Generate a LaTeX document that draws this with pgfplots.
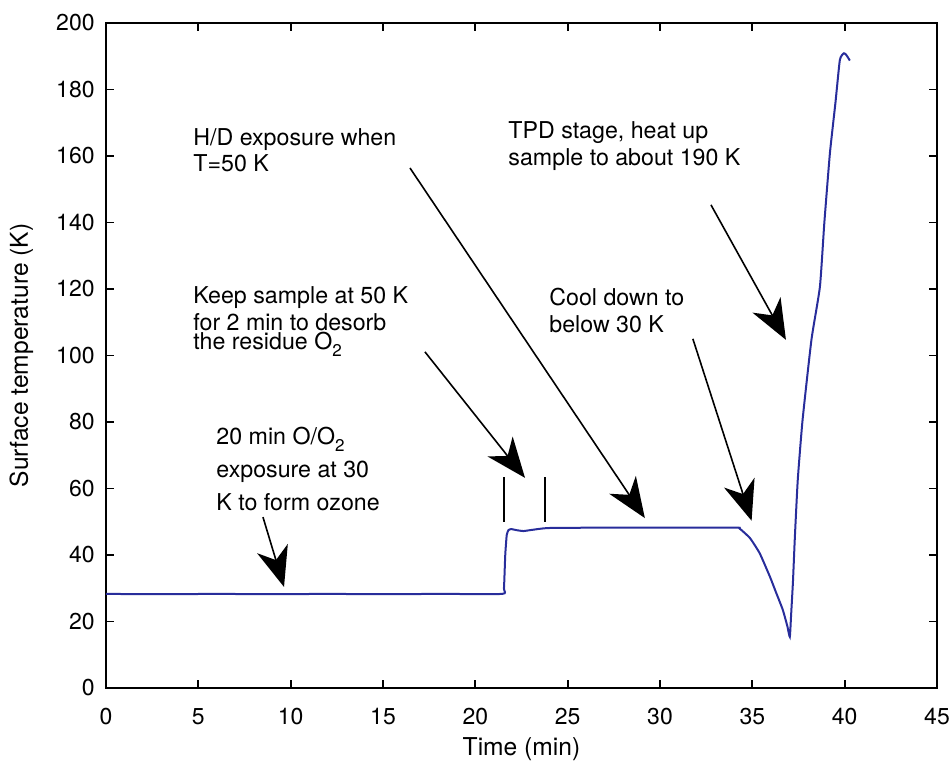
\documentclass[border=0pt]{standalone}
\usepackage{fontspec}
\setmainfont{TeX Gyre Heros}
\usepackage{pgfplots}
\pgfplotsset{compat=1.18}
\usetikzlibrary{arrows.meta}
\definecolor{curveblue}{RGB}{40,45,155}
\newcommand{\sub}[1]{\raisebox{-0.55ex}{\fontsize{8.5}{8.5}\selectfont #1}}
\begin{document}
\fontsize{11}{13}\selectfont
\begin{tikzpicture}
\begin{axis}[
  scale only axis,
  width=415.5pt, height=332.5pt,
  xmin=0, xmax=45, ymin=0, ymax=200,
  xtick={0,5,...,45}, ytick={0,20,...,200},
  axis line style={line width=1pt},
  every tick/.style={black, line width=0.9pt},
  major tick length=4pt,
  tick align=inside,
  /pgf/number format/assume math mode=true,
  tick label style={font=\fontsize{11.5}{13}\selectfont},
  xticklabel style={inner sep=0pt, yshift=-10pt},
  yticklabel style={inner sep=0pt, xshift=-5.5pt},
  xlabel={Time (min)},
  ylabel={Surface temperature (K)},
  label style={font=\fontsize{12.3}{14}\selectfont},
  xlabel style={at={(axis description cs:0.5,-0.1008)}, anchor=base, inner sep=0pt},
  ylabel style={at={(axis description cs:-0.0939,0.5)}, anchor=base, inner sep=0pt},
  clip=false,
]
\addplot[curveblue, line width=1pt, smooth, tension=0.3] coordinates {
(0,28.3) (3,28.2) (6,28.3) (9,28.2) (12,28.3) (15,28.2) (18,28.3) (21.45,28.3)
(21.55,30) (21.62,40) (21.7,46) (21.8,47.5) (21.95,47.8) (22.2,47.5) (22.6,47.2)
(23,47.5) (23.9,48.1) (26,48.2) (30,48.2) (34.1,48.2) (34.3,48.0) (34.87,45.1)
(35.4,40.5) (35.95,33.5) (36.3,28.5) (36.65,23.5) (36.9,18.5) (37.03,15.4)
(37.1,22) (37.2,32) (37.3,45) (37.46,62.6) (37.72,80.6) (38.2,104.7) (38.66,120.7)
(38.9,140) (39.2,160.8) (39.5,176) (39.74,188.9) (39.96,190.9) (40.1,190.3) (40.28,188.7)
};
% marker lines
\addplot[black, line width=0.9pt] coordinates {(21.55,50) (21.55,63.6)};
\addplot[black, line width=0.9pt] coordinates {(23.77,50) (23.77,63.6)};
% arrows
\tikzset{ann/.style={black, line width=0.8pt, -{Stealth[length=20pt, width=16pt, inset=6pt]}}}
\draw[ann] (axis cs:8.5,51.4) -- (axis cs:9.64,30.4);
\draw[ann] (axis cs:17.27,101.1) -- (axis cs:22.69,63.2);
\draw[ann] (axis cs:16.46,156.4) -- (axis cs:29.18,51.1);
\draw[ann] (axis cs:31.78,105.0) -- (axis cs:34.96,50.3);
\draw[ann] (axis cs:32.76,145.3) -- (axis cs:36.82,104.7);
% annotation texts
\tikzset{lbl/.style={anchor=base west, inner sep=0pt, font=\fontsize{11.6}{13}\selectfont}}
\node[lbl] at (axis cs:5.96,73.1) {20 min O/O\sub{2}};
\node[lbl] at (axis cs:5.96,63.2) {exposure at 30};
\node[lbl] at (axis cs:5.96,53.5) {K to form ozone};
\node[lbl] at (axis cs:4.71,115.5) {Keep sample at 50 K};
\node[lbl] at (axis cs:4.71,107.4) {for 2 min to desorb};
\node[lbl] at (axis cs:4.71,101.7) {the residue O\sub{2}};
\node[lbl] at (axis cs:4.71,163.3) {H/D exposure when};
\node[lbl] at (axis cs:4.71,155.2) {T=50 K};
\node[lbl] at (axis cs:21.77,165.4) {TPD stage, heat up};
\node[lbl] at (axis cs:21.77,157.0) {sample to about 190 K};
\node[lbl] at (axis cs:23.99,114.9) {Cool down to};
\node[lbl] at (axis cs:23.99,106.8) {below 30 K};
\end{axis}
\pgfresetboundingbox
\path (-53pt,-37.5pt) rectangle (422.5pt,344pt);
\end{tikzpicture}
\end{document}
